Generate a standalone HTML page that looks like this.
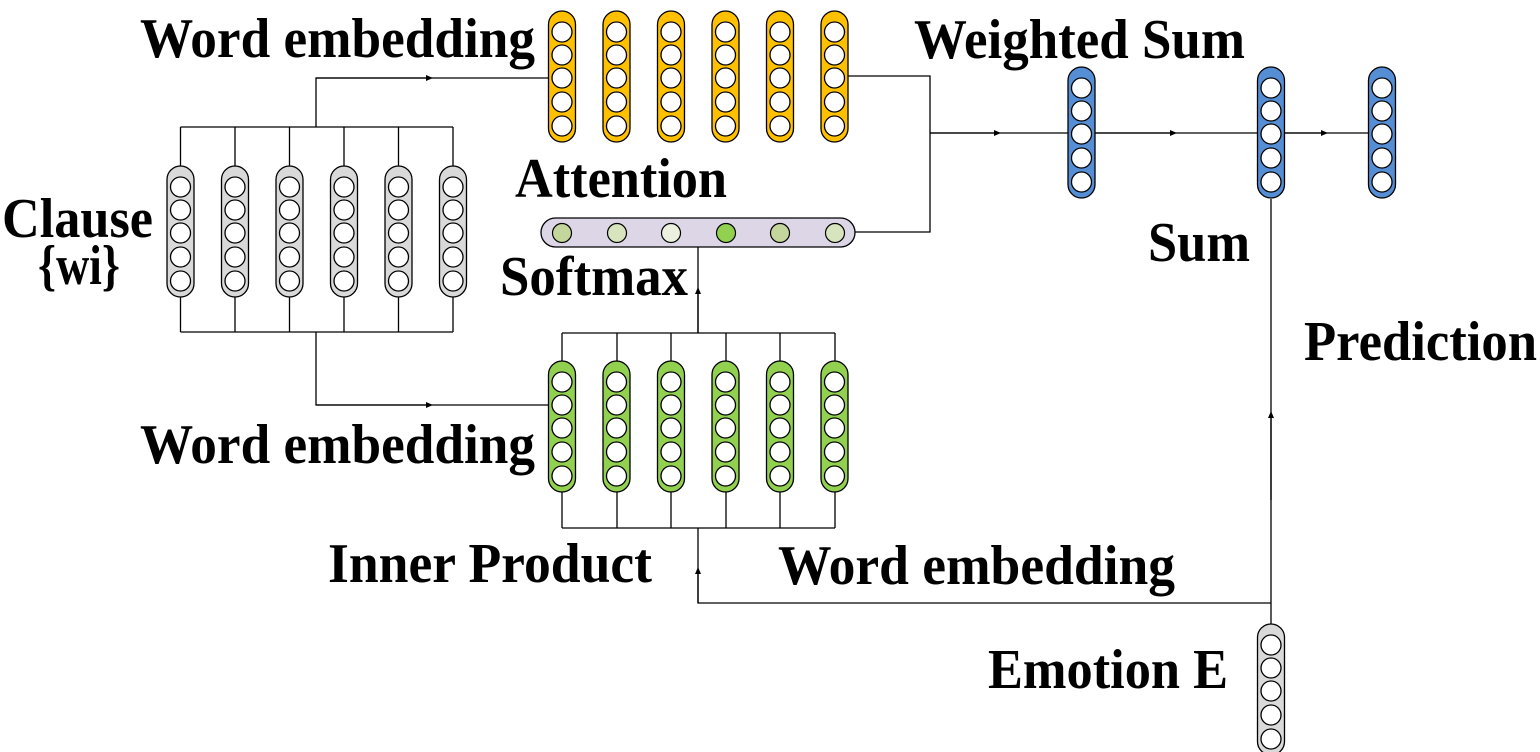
<!DOCTYPE html>
<html><head><meta charset="utf-8"><style>html,body{margin:0;padding:0;background:#fff}svg{display:block}</style></head>
<body>
<svg width="1540" height="752" viewBox="0 0 1540 752" xmlns="http://www.w3.org/2000/svg" xmlns:xlink="http://www.w3.org/1999/xlink">
<defs>
<g id="cir" fill="#fff" stroke="#000" stroke-width="1.3">
<circle cx="13.5" cy="21" r="10"/><circle cx="13.5" cy="44" r="10"/><circle cx="13.5" cy="67" r="10"/><circle cx="13.5" cy="91" r="10"/><circle cx="13.5" cy="115" r="10"/>
</g>
<g id="pY"><rect width="27" height="131" rx="13.5" fill="#ffc000" stroke="#000" stroke-width="1.3"/><use xlink:href="#cir"/></g>
<g id="pG"><rect width="27" height="131" rx="13.5" fill="#92d050" stroke="#000" stroke-width="1.3"/><use xlink:href="#cir"/></g>
<g id="pB"><rect width="27" height="131" rx="13.5" fill="#558ed5" stroke="#000" stroke-width="1.3"/><use xlink:href="#cir"/></g>
<g id="pW"><rect width="27" height="131" rx="13.5" fill="#d9d9d9" stroke="#000" stroke-width="1.3"/><use xlink:href="#cir"/></g>
<marker id="ar" markerWidth="8" markerHeight="8" refX="4" refY="3" orient="auto" markerUnits="userSpaceOnUse"><path d="M0,0 L7,3 L0,6z" fill="#000"/></marker>
</defs>
<g stroke="#000" stroke-width="1.3" fill="none">
<path d="M180.5,127 H453 M180.5,127 V166 M235,127 V166 M289.5,127 V166 M344,127 V166 M398.5,127 V166 M453,127 V166"/>
<path d="M180.5,332 H453 M180.5,296 V332 M235,296 V332 M289.5,296 V332 M344,296 V332 M398.5,296 V332 M453,296 V332"/>
<path d="M316,127 V78 H548.5"/>
<path d="M316,78 H430" marker-end="url(#ar)"/>
<path d="M316,332 V405 H548.5"/>
<path d="M316,405 H430" marker-end="url(#ar)"/>
<path d="M562,333 H835 M562,333 V361 M617,333 V361 M671,333 V361 M726,333 V361 M780,333 V361 M835,333 V361"/>
<path d="M562,528 H835 M562,492 V528 M617,492 V528 M671,492 V528 M726,492 V528 M780,492 V528 M835,492 V528"/>
<path d="M698,333 V247"/>
<path d="M698,333 V290" marker-end="url(#ar)"/>
<path d="M698,528 V603 H1271"/>
<path d="M698,603 V570" marker-end="url(#ar)"/>
<path d="M1271,624 V199"/>
<path d="M1271,500 V414" marker-end="url(#ar)"/>
<path d="M848,76 H930 V232 H855"/>
<path d="M930,133 H1068 M1095,133 H1257 M1284,133 H1368"/>
<path d="M930,133 H998" marker-end="url(#ar)"/>
<path d="M1095,133 H1174" marker-end="url(#ar)"/>
<path d="M1284,133 H1325" marker-end="url(#ar)"/>
</g>
<use xlink:href="#pY" x="548.5" y="11"/><use xlink:href="#pY" x="603" y="11"/><use xlink:href="#pY" x="657.5" y="11"/><use xlink:href="#pY" x="712" y="11"/><use xlink:href="#pY" x="766.5" y="11"/><use xlink:href="#pY" x="821" y="11"/>
<use xlink:href="#pW" x="167" y="166"/><use xlink:href="#pW" x="221.5" y="166"/><use xlink:href="#pW" x="276" y="166"/><use xlink:href="#pW" x="330.5" y="166"/><use xlink:href="#pW" x="385" y="166"/><use xlink:href="#pW" x="439.5" y="166"/>
<use xlink:href="#pG" x="548.5" y="361"/><use xlink:href="#pG" x="603" y="361"/><use xlink:href="#pG" x="657.5" y="361"/><use xlink:href="#pG" x="712" y="361"/><use xlink:href="#pG" x="766.5" y="361"/><use xlink:href="#pG" x="821" y="361"/>
<use xlink:href="#pB" x="1068" y="67"/><use xlink:href="#pB" x="1257.5" y="67"/><use xlink:href="#pB" x="1368.5" y="67"/>
<use xlink:href="#pW" x="1257.5" y="624"/>
<rect x="541" y="218" width="314" height="29" rx="14.5" fill="#dcd6e6" stroke="#000" stroke-width="1.3"/>
<g stroke="#000" stroke-width="1.2">
<circle cx="562" cy="233" r="9.5" fill="#c3d69b"/>
<circle cx="617" cy="233" r="9.5" fill="#d7e4bd"/>
<circle cx="671" cy="233" r="9.5" fill="#ebf1de"/>
<circle cx="726" cy="233" r="9.5" fill="#92d050"/>
<circle cx="780" cy="233" r="9.5" fill="#c3d69b"/>
<circle cx="835" cy="233" r="9.5" fill="#d7e4bd"/>
</g>
<g font-family="Liberation Serif, serif" font-weight="bold" font-size="56" fill="#000">
<text x="140" y="57" textLength="395" lengthAdjust="spacingAndGlyphs">Word embedding</text>
<text x="914" y="58" textLength="331" lengthAdjust="spacingAndGlyphs">Weighted Sum</text>
<text x="515" y="197" textLength="212" lengthAdjust="spacingAndGlyphs">Attention</text>
<text x="2" y="237" textLength="151" lengthAdjust="spacingAndGlyphs">Clause</text>
<text x="38" y="284" textLength="82" lengthAdjust="spacingAndGlyphs">{wi}</text>
<text x="500" y="295" textLength="188" lengthAdjust="spacingAndGlyphs">Softmax</text>
<text x="1148" y="261" textLength="102" lengthAdjust="spacingAndGlyphs">Sum</text>
<text x="1304" y="360" textLength="233" lengthAdjust="spacingAndGlyphs">Prediction</text>
<text x="140" y="463" textLength="395" lengthAdjust="spacingAndGlyphs">Word embedding</text>
<text x="328" y="582" textLength="324" lengthAdjust="spacingAndGlyphs">Inner Product</text>
<text x="778" y="584" textLength="397" lengthAdjust="spacingAndGlyphs">Word embedding</text>
<text x="988" y="688" textLength="240" lengthAdjust="spacingAndGlyphs">Emotion E</text>
</g>
</svg>
</body></html>
